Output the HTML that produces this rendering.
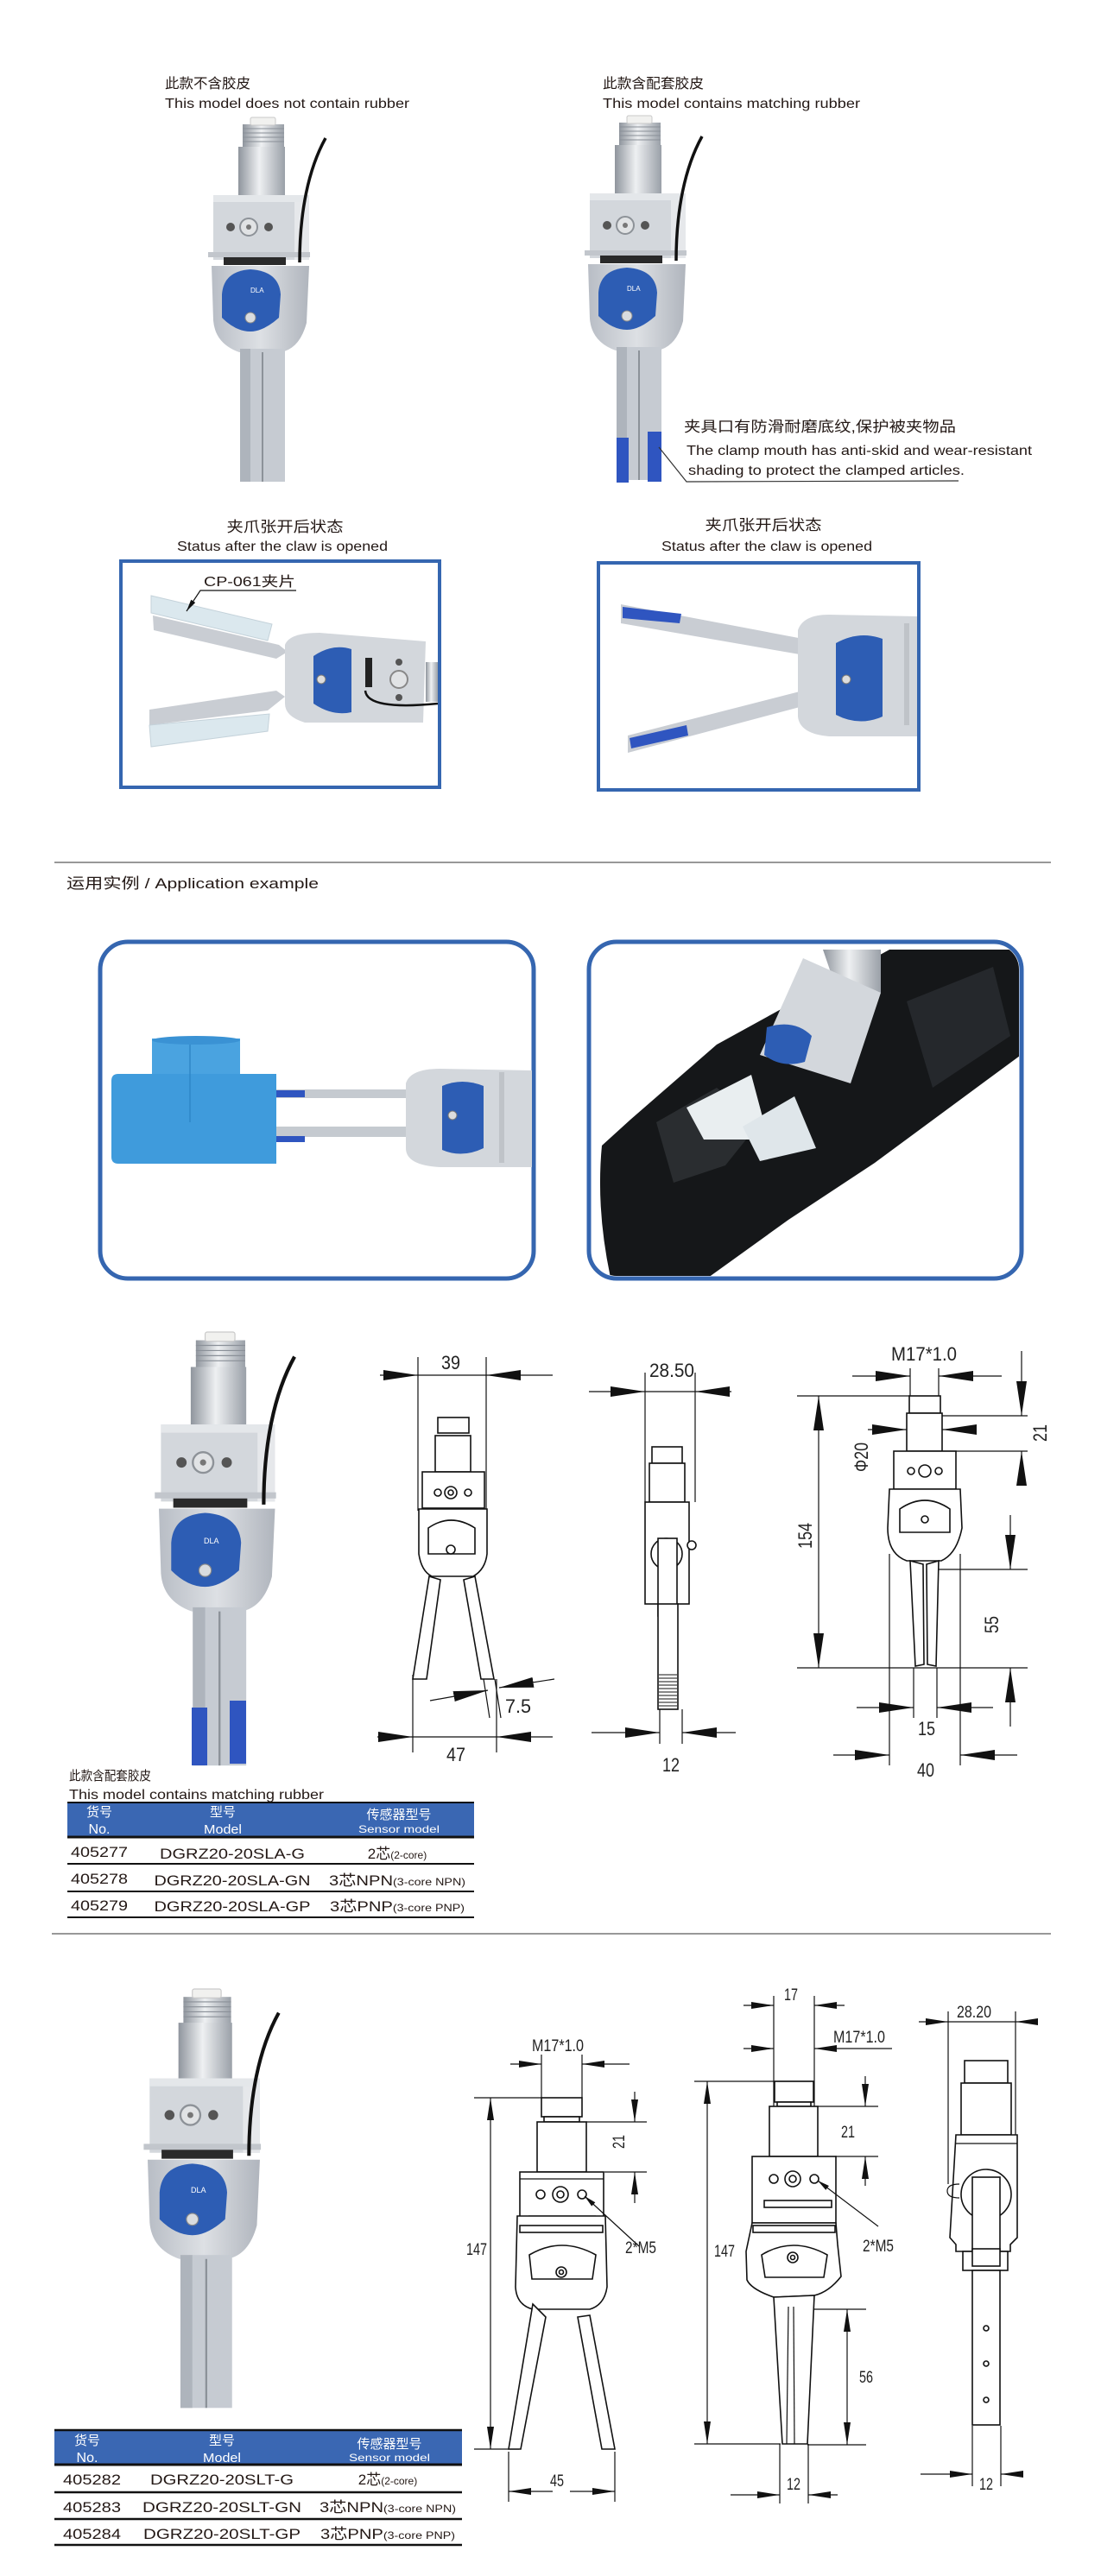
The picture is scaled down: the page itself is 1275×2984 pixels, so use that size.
<!DOCTYPE html>
<html><head><meta charset="utf-8"><style>
html,body{margin:0;padding:0;background:#fff;}
svg{display:block;}
.t{font-family:"Liberation Sans","Noto Sans CJK SC",sans-serif;fill:#231815;}
.d{font-family:"Liberation Sans Narrow","Liberation Sans",sans-serif;fill:#222;}
.w{font-family:"Liberation Sans","Noto Sans CJK SC",sans-serif;fill:#fff;}
.ln{stroke:#111;stroke-width:1.2;fill:none;}
.dr{stroke:#111;stroke-width:1.6;fill:#fff;}
</style></head><body>
<svg width="1275" height="2984" viewBox="0 0 1275 2984" xmlns="http://www.w3.org/2000/svg">
<defs>
<marker id="a" markerUnits="userSpaceOnUse" markerWidth="40" markerHeight="12" refX="40" refY="6" orient="auto"><path d="M0,0 L40,6 L0,12 Z" fill="#111"/></marker>
<marker id="b" markerUnits="userSpaceOnUse" markerWidth="26" markerHeight="8" refX="26" refY="4" orient="auto"><path d="M0,0 L26,4 L0,8 Z" fill="#111"/></marker>
<marker id="c" markerUnits="userSpaceOnUse" markerWidth="14" markerHeight="6" refX="14" refY="3" orient="auto"><path d="M0,0 L14,3 L0,6 Z" fill="#111"/></marker>
<linearGradient id="cyl" x1="0" x2="1" y1="0" y2="0"><stop offset="0" stop-color="#8f959d"/><stop offset="0.45" stop-color="#eef0f2"/><stop offset="1" stop-color="#9aa0a8"/></linearGradient>
<linearGradient id="bod" x1="0" x2="1" y1="0" y2="0"><stop offset="0" stop-color="#b8bdc5"/><stop offset="0.5" stop-color="#dde0e4"/><stop offset="1" stop-color="#b0b5bd"/></linearGradient>
<g id="prod">
 <rect x="36" y="8" width="48" height="28" fill="url(#cyl)"/>
 <path d="M36,13H84M36,18H84M36,23H84M36,28H84" stroke="#8a9098" stroke-width="1"/>
 <rect x="45" y="0" width="29" height="9" rx="2" fill="#f1f1ef" stroke="#c9c9c9"/>
 <rect x="31" y="34" width="54" height="62" fill="url(#cyl)"/>
 <rect x="2" y="90" width="111" height="75" fill="#d3d7dc"/>
 <rect x="96" y="92" width="17" height="73" fill="#e6e8eb"/>
 <rect x="2" y="90" width="111" height="8" fill="#e4e7ea"/>
 <circle cx="22" cy="127" r="5" fill="#555"/><circle cx="66" cy="127" r="5" fill="#555"/>
 <circle cx="43" cy="127" r="10" fill="#e1e3e5" stroke="#8d9298" stroke-width="2"/><circle cx="43" cy="127" r="3" fill="#777"/>
 <rect x="-4" y="156" width="118" height="6" fill="#c2c6cc"/>
 <rect x="14" y="162" width="72" height="9" fill="#2a2a2a"/>
 <path d="M0,172 L113,172 L110,238 Q102,268 80,272 L32,272 Q4,262 2,235 Z" fill="url(#bod)"/>
 <path d="M12,205 Q14,178 45,176 Q78,178 80,205 L78,232 Q60,248 45,248 Q28,248 12,232 Z" fill="#2d5db4"/>
 <circle cx="45" cy="232" r="6" fill="#d9dcdf" stroke="#888"/>
 <rect x="33" y="268" width="52" height="154" fill="#c6cbd2"/>
 <rect x="33" y="268" width="12" height="154" fill="#aeb4bc"/>
 <line x1="59" y1="272" x2="59" y2="422" stroke="#8c9299" stroke-width="2"/>
 <path d="M132,24 C112,60 102,110 102,168" stroke="#111" stroke-width="3.5" fill="none"/>
</g>
</defs>

<!-- ========== SECTION 1 ========== -->
<text class="t" x="191" y="102" font-size="16" textLength="99" lengthAdjust="spacingAndGlyphs">此款不含胶皮</text>
<text class="t" x="191" y="125" font-size="16" textLength="283" lengthAdjust="spacingAndGlyphs">This model does not contain rubber</text>
<text class="t" x="698" y="102" font-size="16" textLength="117" lengthAdjust="spacingAndGlyphs">此款含配套胶皮</text>
<text class="t" x="698" y="125" font-size="16" textLength="298" lengthAdjust="spacingAndGlyphs">This model contains matching rubber</text>

<use href="#prod" transform="translate(245,136)"/>
<text x="290" y="339" font-size="8" fill="#fff" font-family="Liberation Sans">DLA</text>
<use href="#prod" transform="translate(681,134)"/>
<text x="726" y="337" font-size="8" fill="#fff" font-family="Liberation Sans">DLA</text>
<rect x="714" y="507" width="14" height="52" fill="#2f55c0"/>
<rect x="750" y="500" width="16" height="58" fill="#2f55c0"/>

<text class="t" x="792" y="500" font-size="17" textLength="315" lengthAdjust="spacingAndGlyphs">夹具口有防滑耐磨底纹,保护被夹物品</text>
<text class="t" x="795" y="527" font-size="16" textLength="400" lengthAdjust="spacingAndGlyphs">The clamp mouth has anti-skid and wear-resistant</text>
<text class="t" x="797" y="550" font-size="16" textLength="320" lengthAdjust="spacingAndGlyphs">shading to protect the clamped articles.</text>
<path d="M763,518 L795,558 L1110,557" stroke="#333" stroke-width="1.2" fill="none"/>

<text class="t" x="330" y="616" font-size="17" text-anchor="middle" textLength="135" lengthAdjust="spacingAndGlyphs">夹爪张开后状态</text>
<text class="t" x="327" y="638" font-size="16" text-anchor="middle" textLength="244" lengthAdjust="spacingAndGlyphs">Status after the claw is opened</text>
<text class="t" x="884" y="614" font-size="17" text-anchor="middle" textLength="135" lengthAdjust="spacingAndGlyphs">夹爪张开后状态</text>
<text class="t" x="888" y="638" font-size="16" text-anchor="middle" textLength="244" lengthAdjust="spacingAndGlyphs">Status after the claw is opened</text>

<!-- left open-claw box -->
<rect x="140" y="650" width="369" height="262" fill="#fff" stroke="#3566b0" stroke-width="4"/>
<path d="M177,713 L323,747 L333,755 L320,763 L178,730 Z" fill="#c9cdd3"/>
<path d="M175,690 L315,723 L310,742 L175,710 Z" fill="#dbe8ee" stroke="#c4d2da"/>
<path d="M173,822 L320,800 L330,807 L310,823 L173,840 Z" fill="#c9cdd3"/>
<path d="M173,840 L312,827 L310,847 L175,865 Z" fill="#dbe8ee" stroke="#c4d2da"/>
<path d="M330,747 Q335,733 370,733 L493,743 L490,837 L353,837 Q330,830 330,815 Z" fill="#d3d7dc"/>
<path d="M363,760 Q385,745 407,752 L407,825 Q385,830 363,815 Z" fill="#2d5db4"/>
<circle cx="372" cy="787" r="5" fill="#ddd" stroke="#777"/>
<rect x="423" y="762" width="8" height="34" fill="#222"/>
<rect x="493" y="767" width="14" height="46" fill="url(#cyl)"/>
<circle cx="462" cy="787" r="10" fill="#e1e3e5" stroke="#888" stroke-width="2"/>
<circle cx="462" cy="767" r="4" fill="#555"/><circle cx="462" cy="808" r="4" fill="#555"/>
<path d="M423,800 Q425,823 507,815" stroke="#111" stroke-width="2.5" fill="none"/>
<text class="t" x="236" y="679" font-size="16" textLength="106" lengthAdjust="spacingAndGlyphs">CP-061夹片</text>
<path d="M343,684 L232,684 L216,708" class="ln" marker-end="url(#c)"/>

<!-- right open-claw box -->
<rect x="693" y="652" width="371" height="263" fill="#fff" stroke="#3566b0" stroke-width="4"/>
<path d="M719,700 L930,740 L926,758 L719,722 Z" fill="#c9cdd3"/>
<path d="M721,703 L789,711 L787,722 L721,716 Z" fill="#2f55c0"/>
<path d="M727,852 L930,800 L930,818 L727,872 Z" fill="#c9cdd3"/>
<path d="M729,855 L795,840 L797,852 L731,867 Z" fill="#2f55c0"/>
<path d="M924,730 Q930,712 960,712 L1062,714 L1062,853 L960,853 Q926,850 924,830 Z" fill="#d3d7dc"/>
<path d="M968,745 Q995,730 1022,740 L1022,830 Q995,842 968,828 Z" fill="#2d5db4"/>
<circle cx="980" cy="787" r="5" fill="#ddd" stroke="#777"/>
<rect x="1047" y="722" width="6" height="118" fill="#bfc3c8"/>

<line x1="63" y1="999" x2="1217" y2="999" stroke="#777" stroke-width="1.5"/>

<!-- ========== SECTION 2 ========== -->
<text class="t" x="77" y="1029" font-size="17" textLength="292" lengthAdjust="spacingAndGlyphs">运用实例 / Application example</text>

<rect x="116" y="1091" width="502" height="390" rx="32" fill="#fff" stroke="#3566b0" stroke-width="5"/>
<path d="M129,1252 Q129,1244 137,1244 L320,1244 L320,1348 L137,1348 Q129,1348 129,1340 Z" fill="#3f9bdc"/>
<path d="M176,1203 L278,1203 L278,1244 L176,1244 Z" fill="#4aa3e0"/>
<ellipse cx="227" cy="1205" rx="51" ry="5" fill="#3a92d4"/>
<line x1="220" y1="1210" x2="220" y2="1300" stroke="#2f86c8" stroke-width="1.5"/>
<rect x="320" y="1262" width="150" height="10" fill="#c5cad0"/>
<rect x="320" y="1305" width="150" height="12" fill="#c5cad0"/>
<rect x="320" y="1263" width="33" height="8" fill="#2f55c0"/>
<rect x="320" y="1316" width="33" height="7" fill="#2f55c0"/>
<path d="M470,1255 Q475,1238 510,1238 L616,1240 L616,1352 L510,1352 Q470,1350 470,1330 Z" fill="#d3d7dc"/>
<path d="M512,1258 Q535,1248 560,1258 L560,1330 Q535,1342 512,1332 Z" fill="#2d5db4"/>
<circle cx="524" cy="1292" r="5" fill="#ddd" stroke="#777"/>
<rect x="578" y="1242" width="6" height="105" fill="#bfc3c8"/>

<rect x="682" y="1091" width="501" height="390" rx="32" fill="#fff" stroke="#3566b0" stroke-width="5"/>
<clipPath id="rc"><rect x="685" y="1094" width="495" height="384" rx="29"/></clipPath>
<g clip-path="url(#rc)">
<path d="M697,1327 L730,1297 L830,1210 L1030,1100 L1185,1100 L1185,1220 L1013,1347 L913,1413 L820,1480 L707,1480 Q690,1400 697,1327 Z" fill="#151719"/>
<path d="M760,1300 L830,1260 L880,1300 L840,1350 L780,1370 Z" fill="#2a2d30"/>
<path d="M1050,1160 L1150,1120 L1170,1200 L1080,1260 Z" fill="#25282c"/>
<path d="M795,1283 L870,1245 L890,1320 L815,1320 Z" fill="#e9eef0"/>
<path d="M860,1305 L920,1270 L945,1330 L880,1345 Z" fill="#dfe6ea"/>
<path d="M953,1100 L1020,1100 L1020,1150 L970,1150 Z" fill="url(#cyl)"/>
<path d="M930,1110 L1020,1150 L985,1255 L880,1222 Z" fill="#d3d7dc"/>
<path d="M888,1190 Q920,1180 940,1200 L932,1230 Q905,1238 885,1222 Z" fill="#2d5db4"/>
</g>

<!-- product 3 -->
<use href="#prod" transform="translate(184,1543) scale(1.19)"/>
<text x="236" y="1788" font-size="9" fill="#fff" font-family="Liberation Sans">DLA</text>
<rect x="222" y="1978" width="18" height="67" fill="#2f55c0"/>
<rect x="266" y="1970" width="19" height="73" fill="#2f55c0"/>

<!-- drawing 1 -->
<line x1="484" y1="1572" x2="484" y2="1750" class="ln"/><line x1="563" y1="1572" x2="563" y2="1750" class="ln"/>
<line x1="440" y1="1593" x2="484" y2="1593" class="ln" marker-end="url(#a)"/>
<line x1="640" y1="1593" x2="563" y2="1593" class="ln" marker-end="url(#a)"/>
<line x1="484" y1="1593" x2="563" y2="1593" class="ln"/>
<text class="d" x="522" y="1586" font-size="22" text-anchor="middle" textLength="22" lengthAdjust="spacingAndGlyphs">39</text>
<rect x="507" y="1642" width="36" height="18" class="dr"/>
<rect x="504" y="1663" width="41" height="42" class="dr"/>
<rect x="489" y="1705" width="72" height="42" class="dr"/>
<circle cx="507" cy="1729" r="4" class="dr"/><circle cx="522" cy="1729" r="7" class="dr"/><circle cx="522" cy="1729" r="3" class="dr"/><circle cx="542" cy="1729" r="4" class="dr"/>
<path d="M485,1748 L485,1800 Q488,1820 500,1826 L548,1826 Q562,1818 564,1800 L564,1748 Z" class="dr"/>
<path d="M496,1770 Q522,1752 550,1770 L550,1800 L496,1800 Z" class="dr"/>
<circle cx="522" cy="1795" r="5" class="dr"/>
<path d="M497,1826 L510,1830 L494,1945 L478,1945 Z" class="dr"/>
<path d="M537,1830 L550,1826 L572,1945 L557,1945 Z" class="dr"/>
<line x1="478" y1="1940" x2="478" y2="2030" class="ln"/><line x1="575" y1="1945" x2="575" y2="2030" class="ln"/>
<line x1="437" y1="2012" x2="478" y2="2012" class="ln" marker-end="url(#a)"/>
<line x1="640" y1="2012" x2="575" y2="2012" class="ln" marker-end="url(#a)"/>
<line x1="478" y1="2012" x2="575" y2="2012" class="ln"/>
<text class="d" x="528" y="2040" font-size="22" text-anchor="middle" textLength="22" lengthAdjust="spacingAndGlyphs">47</text>
<line x1="498" y1="1970" x2="565" y2="1958" class="ln" marker-end="url(#a)"/>
<line x1="642" y1="1945" x2="578" y2="1955" class="ln" marker-end="url(#a)"/>
<line x1="560" y1="1945" x2="567" y2="1990" class="ln"/><line x1="573" y1="1945" x2="580" y2="1990" class="ln"/>
<text class="d" x="600" y="1984" font-size="22" text-anchor="middle" textLength="30" lengthAdjust="spacingAndGlyphs">7.5</text>

<!-- drawing 2 -->
<line x1="747" y1="1590" x2="747" y2="1740" class="ln"/><line x1="805" y1="1590" x2="805" y2="1740" class="ln"/>
<line x1="682" y1="1612" x2="747" y2="1612" class="ln" marker-end="url(#a)"/>
<line x1="847" y1="1612" x2="805" y2="1612" class="ln" marker-end="url(#a)"/>
<line x1="747" y1="1612" x2="805" y2="1612" class="ln"/>
<text class="d" x="778" y="1595" font-size="22" text-anchor="middle" textLength="52" lengthAdjust="spacingAndGlyphs">28.50</text>
<rect x="755" y="1676" width="35" height="19" class="dr"/>
<rect x="752" y="1695" width="41" height="45" class="dr"/>
<rect x="747" y="1740" width="51" height="118" class="dr"/>
<circle cx="772" cy="1800" r="18" class="dr"/>
<rect x="762" y="1782" width="22" height="90" class="dr"/>
<circle cx="801" cy="1790" r="5" class="dr"/>
<rect x="762" y="1858" width="23" height="122" class="dr"/>
<g stroke="#111" stroke-width="1"><path d="M763,1940H784M763,1944H784M763,1948H784M763,1952H784M763,1956H784M763,1960H784M763,1964H784M763,1968H784M763,1972H784M763,1976H784"/></g>
<line x1="764" y1="1980" x2="764" y2="2020" class="ln"/><line x1="790" y1="1980" x2="790" y2="2020" class="ln"/>
<line x1="685" y1="2007" x2="764" y2="2007" class="ln" marker-end="url(#a)"/>
<line x1="852" y1="2007" x2="790" y2="2007" class="ln" marker-end="url(#a)"/>
<text class="d" x="777" y="2052" font-size="22" text-anchor="middle" textLength="20" lengthAdjust="spacingAndGlyphs">12</text>

<!-- drawing 3 -->
<text class="d" x="1070" y="1576" font-size="22" text-anchor="middle" textLength="76" lengthAdjust="spacingAndGlyphs">M17*1.0</text>
<line x1="1054" y1="1585" x2="1054" y2="1617" class="ln"/><line x1="1087" y1="1585" x2="1087" y2="1617" class="ln"/>
<line x1="987" y1="1594" x2="1054" y2="1594" class="ln" marker-end="url(#a)"/>
<line x1="1160" y1="1594" x2="1087" y2="1594" class="ln" marker-end="url(#a)"/>
<line x1="923" y1="1617" x2="1054" y2="1617" class="ln"/>
<line x1="923" y1="1932" x2="1190" y2="1932" class="ln"/>
<line x1="948" y1="1775" x2="948" y2="1617" class="ln" marker-end="url(#a)"/>
<line x1="948" y1="1775" x2="948" y2="1932" class="ln" marker-end="url(#a)"/>
<text class="d" font-size="22" text-anchor="middle" transform="translate(940,1779) rotate(-90)" textLength="30" lengthAdjust="spacingAndGlyphs">154</text>
<line x1="1005" y1="1656" x2="1050" y2="1656" class="ln" marker-end="url(#a)"/>
<line x1="1130" y1="1656" x2="1091" y2="1656" class="ln" marker-end="url(#a)"/>
<text class="d" font-size="22" text-anchor="middle" transform="translate(1005,1688) rotate(-90)" textLength="34" lengthAdjust="spacingAndGlyphs">Φ20</text>
<line x1="1090" y1="1640" x2="1190" y2="1640" class="ln"/><line x1="1091" y1="1681" x2="1190" y2="1681" class="ln"/>
<line x1="1183" y1="1565" x2="1183" y2="1640" class="ln" marker-end="url(#a)"/>
<line x1="1183" y1="1720" x2="1183" y2="1681" class="ln" marker-end="url(#a)"/>
<text class="d" font-size="22" text-anchor="middle" transform="translate(1212,1660) rotate(-90)" textLength="20" lengthAdjust="spacingAndGlyphs">21</text>
<rect x="1053" y="1617" width="36" height="20" class="dr"/>
<rect x="1050" y="1637" width="41" height="44" class="dr"/>
<rect x="1035" y="1681" width="72" height="44" class="dr"/>
<circle cx="1055" cy="1704" r="4" class="dr"/><circle cx="1071" cy="1704" r="7" class="dr"/><circle cx="1087" cy="1704" r="4" class="dr"/>
<path d="M1030,1725 L1112,1725 L1114,1770 Q1108,1800 1090,1808 L1050,1808 Q1028,1800 1028,1770 Z" class="dr"/>
<path d="M1042,1748 Q1071,1728 1100,1748 L1100,1775 L1042,1775 Z" class="dr"/>
<circle cx="1071" cy="1760" r="4" class="dr"/>
<path d="M1054,1808 L1069,1812 L1070,1928 L1060,1930 Z" class="dr"/>
<path d="M1073,1812 L1087,1808 L1084,1930 L1074,1928 Z" class="dr"/>
<line x1="1087" y1="1818" x2="1190" y2="1818" class="ln"/>
<line x1="1170" y1="1755" x2="1170" y2="1818" class="ln" marker-end="url(#a)"/>
<line x1="1170" y1="2000" x2="1170" y2="1932" class="ln" marker-end="url(#a)"/>
<text class="d" font-size="22" text-anchor="middle" transform="translate(1156,1882) rotate(-90)" textLength="20" lengthAdjust="spacingAndGlyphs">55</text>
<line x1="1058" y1="1932" x2="1058" y2="1990" class="ln"/><line x1="1085" y1="1932" x2="1085" y2="1990" class="ln"/>
<line x1="992" y1="1978" x2="1058" y2="1978" class="ln" marker-end="url(#a)"/>
<line x1="1150" y1="1978" x2="1085" y2="1978" class="ln" marker-end="url(#a)"/>
<text class="d" x="1073" y="2010" font-size="22" text-anchor="middle" textLength="20" lengthAdjust="spacingAndGlyphs">15</text>
<line x1="1030" y1="1800" x2="1030" y2="2045" class="ln"/><line x1="1112" y1="1800" x2="1112" y2="2045" class="ln"/>
<line x1="965" y1="2033" x2="1030" y2="2033" class="ln" marker-end="url(#a)"/>
<line x1="1178" y1="2033" x2="1112" y2="2033" class="ln" marker-end="url(#a)"/>
<text class="d" x="1072" y="2058" font-size="22" text-anchor="middle" textLength="20" lengthAdjust="spacingAndGlyphs">40</text>

<!-- table 1 -->
<text class="t" x="80" y="2062" font-size="15" textLength="95" lengthAdjust="spacingAndGlyphs">此款含配套胶皮</text>
<text class="t" x="80" y="2084" font-size="16" textLength="295" lengthAdjust="spacingAndGlyphs">This model contains matching rubber</text>
<rect x="78" y="2087" width="471" height="41" fill="#3a67b3"/>
<line x1="78" y1="2088" x2="549" y2="2088" stroke="#111" stroke-width="2"/>
<line x1="78" y1="2128" x2="549" y2="2128" stroke="#111" stroke-width="3"/>
<line x1="78" y1="2159" x2="549" y2="2159" stroke="#111" stroke-width="2"/>
<line x1="78" y1="2191" x2="549" y2="2191" stroke="#111" stroke-width="2"/>
<line x1="78" y1="2221" x2="549" y2="2221" stroke="#111" stroke-width="2"/>
<text class="w" x="115" y="2104" font-size="15" text-anchor="middle">货号</text>
<text class="w" x="115" y="2124" font-size="16" text-anchor="middle">No.</text>
<text class="w" x="258" y="2104" font-size="15" text-anchor="middle">型号</text>
<text class="w" x="258" y="2124" font-size="15" text-anchor="middle" textLength="44" lengthAdjust="spacingAndGlyphs">Model</text>
<text class="w" x="462" y="2107" font-size="15" text-anchor="middle">传感器型号</text>
<text class="w" x="462" y="2123" font-size="12" text-anchor="middle" textLength="94" lengthAdjust="spacingAndGlyphs">Sensor model</text>
<g class="t" font-size="17">
<text x="82" y="2151" textLength="66" lengthAdjust="spacingAndGlyphs">405277</text>
<text x="269" y="2153" text-anchor="middle" textLength="168" lengthAdjust="spacingAndGlyphs">DGRZ20-20SLA-G</text>
<text x="460" y="2153" text-anchor="middle">2芯<tspan font-size="12">(2-core)</tspan></text>
<text x="82" y="2182" textLength="66" lengthAdjust="spacingAndGlyphs">405278</text>
<text x="269" y="2184" text-anchor="middle" textLength="181" lengthAdjust="spacingAndGlyphs">DGRZ20-20SLA-GN</text>
<text x="460" y="2184" text-anchor="middle" textLength="158" lengthAdjust="spacingAndGlyphs">3芯NPN<tspan font-size="12">(3-core NPN)</tspan></text>
<text x="82" y="2213" textLength="66" lengthAdjust="spacingAndGlyphs">405279</text>
<text x="269" y="2214" text-anchor="middle" textLength="181" lengthAdjust="spacingAndGlyphs">DGRZ20-20SLA-GP</text>
<text x="460" y="2214" text-anchor="middle" textLength="156" lengthAdjust="spacingAndGlyphs">3芯PNP<tspan font-size="12">(3-core PNP)</tspan></text>
</g>

<line x1="60" y1="2240" x2="1217" y2="2240" stroke="#777" stroke-width="1.5"/>

<!-- ========== SECTION 3 ========== -->
<use href="#prod" transform="translate(171,2304) scale(1.15)"/>
<text x="221" y="2540" font-size="9" fill="#fff" font-family="Liberation Sans">DLA</text>

<!-- drawing 4 -->
<text class="d" x="646" y="2376" font-size="19" text-anchor="middle" textLength="60" lengthAdjust="spacingAndGlyphs">M17*1.0</text>
<line x1="627" y1="2380" x2="627" y2="2430" class="ln"/><line x1="674" y1="2380" x2="674" y2="2430" class="ln"/>
<line x1="591" y1="2391" x2="627" y2="2391" class="ln" marker-end="url(#b)"/>
<line x1="729" y1="2391" x2="674" y2="2391" class="ln" marker-end="url(#b)"/>
<line x1="549" y1="2430" x2="627" y2="2430" class="ln"/><line x1="549" y1="2837" x2="601" y2="2837" class="ln"/>
<line x1="568" y1="2630" x2="568" y2="2430" class="ln" marker-end="url(#b)"/>
<line x1="568" y1="2630" x2="568" y2="2837" class="ln" marker-end="url(#b)"/>
<text class="d" x="552" y="2612" font-size="19" text-anchor="middle" textLength="24" lengthAdjust="spacingAndGlyphs">147</text>
<line x1="679" y1="2458" x2="749" y2="2458" class="ln"/><line x1="700" y1="2516" x2="749" y2="2516" class="ln"/>
<line x1="735" y1="2423" x2="735" y2="2458" class="ln" marker-end="url(#b)"/>
<line x1="735" y1="2552" x2="735" y2="2516" class="ln" marker-end="url(#b)"/>
<text class="d" font-size="19" text-anchor="middle" transform="translate(723,2481) rotate(-90)" textLength="16" lengthAdjust="spacingAndGlyphs">21</text>
<rect x="627" y="2430" width="47" height="22" class="dr"/>
<rect x="630" y="2452" width="41" height="6" class="dr"/>
<rect x="622" y="2458" width="57" height="58" class="dr"/>
<rect x="602" y="2516" width="97" height="60" class="dr"/>
<line x1="602" y1="2524" x2="699" y2="2524" class="ln"/>
<circle cx="626" cy="2542" r="5" class="dr"/><circle cx="649" cy="2542" r="9" class="dr"/><circle cx="649" cy="2542" r="4" class="dr"/><circle cx="674" cy="2542" r="5" class="dr"/>
<line x1="612" y1="2567" x2="690" y2="2567" class="ln"/>
<path d="M599,2567 L701,2567 L703,2649 Q700,2670 683,2675 L617,2675 Q598,2670 597,2649 Z" class="dr"/>
<rect x="602" y="2578" width="96" height="8" class="dr"/>
<path d="M613,2612 Q650,2590 690,2612 L686,2640 L616,2640 Z" class="dr"/>
<circle cx="650" cy="2632" r="6" class="dr"/><circle cx="650" cy="2632" r="2.5" class="dr"/>
<path d="M617,2669 L632,2684 L603,2837 L589,2837 Z" class="dr"/>
<path d="M669,2684 L683,2682 L712,2837 L697,2837 Z" class="dr"/>
<text class="d" x="724" y="2610" font-size="19" textLength="36" lengthAdjust="spacingAndGlyphs">2*M5</text>
<line x1="740" y1="2602" x2="677" y2="2544" class="ln" marker-end="url(#c)"/>
<line x1="589" y1="2840" x2="589" y2="2898" class="ln"/><line x1="712" y1="2840" x2="712" y2="2898" class="ln"/>
<line x1="640" y1="2886" x2="589" y2="2886" class="ln" marker-end="url(#b)"/>
<line x1="660" y1="2886" x2="712" y2="2886" class="ln" marker-end="url(#b)"/>
<text class="d" x="645" y="2880" font-size="19" text-anchor="middle" textLength="16" lengthAdjust="spacingAndGlyphs">45</text>

<!-- drawing 5 -->
<text class="d" x="916" y="2317" font-size="19" text-anchor="middle" textLength="16" lengthAdjust="spacingAndGlyphs">17</text>
<line x1="896" y1="2312" x2="896" y2="2497" class="ln"/><line x1="943" y1="2312" x2="943" y2="2497" class="ln"/>
<line x1="861" y1="2323" x2="896" y2="2323" class="ln" marker-end="url(#b)"/>
<line x1="978" y1="2323" x2="943" y2="2323" class="ln" marker-end="url(#b)"/>
<text class="d" x="995" y="2366" font-size="19" text-anchor="middle" textLength="60" lengthAdjust="spacingAndGlyphs">M17*1.0</text>
<line x1="861" y1="2373" x2="896" y2="2373" class="ln" marker-end="url(#b)"/>
<line x1="1033" y1="2373" x2="943" y2="2373" class="ln" marker-end="url(#b)"/>
<line x1="804" y1="2411" x2="943" y2="2411" class="ln"/><line x1="804" y1="2831" x2="904" y2="2831" class="ln"/>
<line x1="819" y1="2620" x2="819" y2="2411" class="ln" marker-end="url(#b)"/>
<line x1="819" y1="2620" x2="819" y2="2831" class="ln" marker-end="url(#b)"/>
<text class="d" x="839" y="2614" font-size="19" text-anchor="middle" textLength="24" lengthAdjust="spacingAndGlyphs">147</text>
<line x1="947" y1="2440" x2="1017" y2="2440" class="ln"/><line x1="967" y1="2498" x2="1017" y2="2498" class="ln"/>
<line x1="1002" y1="2405" x2="1002" y2="2440" class="ln" marker-end="url(#b)"/>
<line x1="1002" y1="2532" x2="1002" y2="2498" class="ln" marker-end="url(#b)"/>
<text class="d" x="982" y="2476" font-size="19" text-anchor="middle" textLength="16" lengthAdjust="spacingAndGlyphs">21</text>
<rect x="897" y="2411" width="45" height="24" class="dr"/>
<rect x="900" y="2435" width="39" height="5" class="dr"/>
<rect x="891" y="2440" width="56" height="58" class="dr"/>
<rect x="871" y="2498" width="97" height="77" class="dr"/>
<circle cx="896" cy="2524" r="5" class="dr"/><circle cx="918" cy="2524" r="9" class="dr"/><circle cx="918" cy="2524" r="4" class="dr"/><circle cx="943" cy="2524" r="5" class="dr"/>
<rect x="885" y="2549" width="78" height="8" class="dr"/>
<path d="M871,2575 L968,2575 L970,2600 L974,2637 Q960,2655 943,2659 L896,2661 Q870,2652 865,2641 L864,2608 Z" class="dr"/>
<rect x="872" y="2578" width="95" height="8" class="dr"/>
<path d="M882,2612 Q918,2590 958,2612 L954,2638 L886,2638 Z" class="dr"/>
<circle cx="918" cy="2615" r="6" class="dr"/><circle cx="918" cy="2615" r="2.5" class="dr"/>
<path d="M896,2661 L943,2659 L935,2831 L906,2831 Z" class="dr"/>
<line x1="919" y1="2672" x2="920" y2="2831" class="ln"/><line x1="913" y1="2672" x2="911" y2="2831" class="ln"/>
<text class="d" x="999" y="2608" font-size="19" textLength="36" lengthAdjust="spacingAndGlyphs">2*M5</text>
<line x1="1017" y1="2579" x2="947" y2="2526" class="ln" marker-end="url(#c)"/>
<line x1="942" y1="2675" x2="1003" y2="2675" class="ln"/><line x1="935" y1="2832" x2="1003" y2="2832" class="ln"/>
<line x1="981" y1="2750" x2="981" y2="2675" class="ln" marker-end="url(#b)"/>
<line x1="981" y1="2750" x2="981" y2="2832" class="ln" marker-end="url(#b)"/>
<text class="d" x="1003" y="2760" font-size="19" text-anchor="middle" textLength="16" lengthAdjust="spacingAndGlyphs">56</text>
<line x1="903" y1="2831" x2="903" y2="2900" class="ln"/><line x1="936" y1="2831" x2="936" y2="2900" class="ln"/>
<line x1="846" y1="2890" x2="903" y2="2890" class="ln" marker-end="url(#b)"/>
<line x1="970" y1="2890" x2="936" y2="2890" class="ln" marker-end="url(#b)"/>
<text class="d" x="919" y="2884" font-size="19" text-anchor="middle" textLength="16" lengthAdjust="spacingAndGlyphs">12</text>

<!-- drawing 6 -->
<text class="d" x="1128" y="2337" font-size="19" text-anchor="middle" textLength="40" lengthAdjust="spacingAndGlyphs">28.20</text>
<line x1="1098" y1="2330" x2="1098" y2="2530" class="ln"/><line x1="1176" y1="2330" x2="1176" y2="2473" class="ln"/>
<line x1="1064" y1="2342" x2="1098" y2="2342" class="ln" marker-end="url(#b)"/>
<line x1="1199" y1="2342" x2="1176" y2="2342" class="ln" marker-end="url(#b)"/>
<line x1="1098" y1="2342" x2="1176" y2="2342" class="ln"/>
<rect x="1117" y="2387" width="50" height="26" class="dr"/>
<rect x="1113" y="2413" width="58" height="60" class="dr"/>
<path d="M1107,2473 L1178,2473 L1178,2592 L1170,2600 L1170,2608 L1107,2608 L1107,2600 L1100,2592 Z" class="dr"/>
<line x1="1107" y1="2483" x2="1178" y2="2483" class="ln"/>
<circle cx="1142" cy="2542" r="29" class="dr"/>
<rect x="1126" y="2522" width="32" height="98" class="dr"/>
<path d="M1111,2530 Q1097,2530 1097,2538 Q1097,2546 1111,2546" class="ln"/>
<rect x="1115" y="2608" width="52" height="22" class="dr"/>
<rect x="1126" y="2605" width="32" height="20" class="dr"/>
<rect x="1126" y="2630" width="32" height="179" class="dr"/>
<circle cx="1142" cy="2697" r="3" class="dr"/><circle cx="1142" cy="2738" r="3" class="dr"/><circle cx="1142" cy="2780" r="3" class="dr"/>
<line x1="1126" y1="2810" x2="1126" y2="2880" class="ln"/><line x1="1159" y1="2810" x2="1159" y2="2880" class="ln"/>
<line x1="1066" y1="2866" x2="1126" y2="2866" class="ln" marker-end="url(#b)"/>
<line x1="1182" y1="2866" x2="1159" y2="2866" class="ln" marker-end="url(#b)"/>
<text class="d" x="1142" y="2884" font-size="19" text-anchor="middle" textLength="16" lengthAdjust="spacingAndGlyphs">12</text>

<!-- table 2 -->
<rect x="63" y="2814" width="472" height="41" fill="#3a67b3"/>
<line x1="63" y1="2815" x2="535" y2="2815" stroke="#111" stroke-width="2.5"/>
<line x1="63" y1="2855" x2="535" y2="2855" stroke="#111" stroke-width="3"/>
<line x1="63" y1="2887" x2="535" y2="2887" stroke="#111" stroke-width="2.5"/>
<line x1="63" y1="2918" x2="535" y2="2918" stroke="#111" stroke-width="2.5"/>
<line x1="63" y1="2948" x2="535" y2="2948" stroke="#111" stroke-width="2.5"/>
<text class="w" x="101" y="2832" font-size="15" text-anchor="middle">货号</text>
<text class="w" x="101" y="2852" font-size="16" text-anchor="middle">No.</text>
<text class="w" x="257" y="2832" font-size="15" text-anchor="middle">型号</text>
<text class="w" x="257" y="2852" font-size="15" text-anchor="middle" textLength="44" lengthAdjust="spacingAndGlyphs">Model</text>
<text class="w" x="451" y="2836" font-size="15" text-anchor="middle">传感器型号</text>
<text class="w" x="451" y="2851" font-size="12" text-anchor="middle" textLength="94" lengthAdjust="spacingAndGlyphs">Sensor model</text>
<g class="t" font-size="17">
<text x="73" y="2878" textLength="67" lengthAdjust="spacingAndGlyphs">405282</text>
<text x="257" y="2878" text-anchor="middle" textLength="166" lengthAdjust="spacingAndGlyphs">DGRZ20-20SLT-G</text>
<text x="449" y="2878" text-anchor="middle">2芯<tspan font-size="12">(2-core)</tspan></text>
<text x="73" y="2910" textLength="67" lengthAdjust="spacingAndGlyphs">405283</text>
<text x="257" y="2910" text-anchor="middle" textLength="184" lengthAdjust="spacingAndGlyphs">DGRZ20-20SLT-GN</text>
<text x="449" y="2910" text-anchor="middle" textLength="158" lengthAdjust="spacingAndGlyphs">3芯NPN<tspan font-size="12">(3-core NPN)</tspan></text>
<text x="73" y="2941" textLength="67" lengthAdjust="spacingAndGlyphs">405284</text>
<text x="257" y="2941" text-anchor="middle" textLength="182" lengthAdjust="spacingAndGlyphs">DGRZ20-20SLT-GP</text>
<text x="449" y="2941" text-anchor="middle" textLength="156" lengthAdjust="spacingAndGlyphs">3芯PNP<tspan font-size="12">(3-core PNP)</tspan></text>
</g>
</svg>
</body></html>
